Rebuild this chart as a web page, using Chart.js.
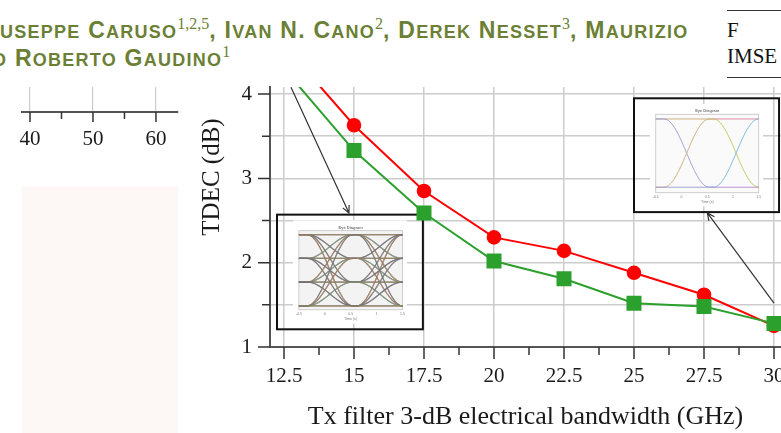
<!DOCTYPE html>
<html>
<head>
<meta charset="utf-8">
<script src="https://cdn.jsdelivr.net/npm/chart.js@4.4.1/dist/chart.umd.min.js"></script>
<style>
  html, body { margin: 0; padding: 0; background: #fff; width: 781px; height: 433px; overflow: hidden; }
  body { position: relative; }
  .hdr { position: absolute; left: 0; color: #6b7f35; font-family: "Liberation Sans", Arial, sans-serif;
         font-weight: bold; font-size: 23px; line-height: 22px; white-space: nowrap; letter-spacing: 1.25px; }
  .hdr i { font-style: normal; font-size: 18px; }
  .hdr sup { font-family: "Liberation Serif", serif; font-weight: normal; letter-spacing: 0;
             font-size: 16px; vertical-align: 0; position: relative; top: -9px; }
  .pink { position: absolute; left: 22px; top: 186px; width: 156px; height: 247px; background: #fdf7f6; }
  .legbox { position: absolute; left: 727px; top: 10px; width: 60px; height: 68px;
            border-top: 1.5px solid #333; border-bottom: 1.5px solid #333;
            font-family: "Liberation Serif", serif; font-size: 21px; color: #111; line-height: 26px; padding-top: 6px; box-sizing: border-box; }
  canvas { position: absolute; }
</style>
</head>
<body>
<div class="hdr" style="top:19px;left:0"><i>USEPPE</i> C<i>ARUSO</i><sup>1,2,5</sup>, I<i>VAN</i> N. C<i>ANO</i><sup>2</sup>, D<i>EREK</i> N<i>ESSET</i><sup>3</sup>, M<i>AURIZIO</i></div>
<div class="hdr" style="top:47px;left:-8px"><i>O</i> R<i>OBERTO</i> G<i>AUDINO</i><sup>1</sup></div>
<div class="pink"></div>
<div class="legbox">F<br>IMSE</div>
<canvas id="leftAxis" width="200" height="90" style="left:0;top:70px"></canvas>
<canvas id="tdec" width="781" height="433" style="left:0;top:0"></canvas>
<script>
// values
const bandwidthGHz = [12.5, 15, 17.5, 20, 22.5, 25, 27.5, 30];
const tdecRed      = [4.58, 3.63, 2.85, 2.30, 2.14, 1.88, 1.62, 1.25];
const tdecGreen    = [4.30, 3.33, 2.59, 2.02, 1.81, 1.52, 1.48, 1.28];
const xTickLabels  = [12.5, 15, 17.5, 20, 22.5, 25, 27.5, 30];
const yTickLabels  = [1, 2, 3, 4];
const leftAxisLabels = [40, 50, 60];

// minor ticks sit half way between labelled ones
const withHalves = (arr) => arr.flatMap((v, i) => i < arr.length - 1 ? [v, (v + arr[i + 1]) / 2] : [v]);
const xTicks = withHalves(xTickLabels);
const yTicks = withHalves(yTickLabels);
const leftTicks = withHalves(leftAxisLabels);

// the two eye-diagram pictures and their arrows, in data units
const insets = [
  { kind: 'pam', x0: 12.25, x1: 17.46, y0: 2.57, y1: 1.21 },
  { kind: 'nrz', x0: 25.0, x1: 30.18, y0: 3.95, y1: 2.60 }
];
const arrows = [
  { from: [12.75, 4.08], to: [14.82, 2.59] },
  { from: [30.0, 1.52], to: [27.62, 2.59] }
];

const serif = '"Liberation Serif", "Times New Roman", serif';

function drawInset(ctx, l, t, r, b, kind) {
  const w = r - l, h = b - t;
  ctx.save();
  ctx.fillStyle = '#fff';
  ctx.fillRect(l + 0.11 * w, t + 0.05 * h, 0.78 * w, 0.9 * h);
  const pl = l + 0.15 * w, pr = l + 0.86 * w, pt = t + 0.14 * h, pb = t + 0.83 * h;
  ctx.fillStyle = kind === 'pam' ? '#f3f3f3' : '#fafafa';
  ctx.fillRect(pl, pt, pr - pl, pb - pt);
  ctx.strokeStyle = '#bbb';
  ctx.lineWidth = 0.7;
  ctx.strokeRect(pl, pt, pr - pl, pb - pt);

  // tiny labels
  ctx.fillStyle = '#777';
  ctx.font = 'bold 4px "Liberation Sans"';
  ctx.textAlign = 'center';
  ctx.fillText('Eye Diagram', (pl + pr) / 2, pt - 2);
  ctx.font = '3.5px "Liberation Sans"';
  ['-0.5', '0', '0.5', '1', '1.5'].forEach((s, i) => ctx.fillText(s, pl + i * (pr - pl) / 4, pb + 5));
  ctx.fillText('Time (s)', (pl + pr) / 2, pb + 10);

  // traces
  const levels = kind === 'pam' ? [0.05, 0.35, 0.65, 0.95] : [0.06, 0.93];
  const colors = kind === 'pam'
    ? ['rgba(190,90,70,0.45)', 'rgba(70,110,150,0.45)', 'rgba(110,110,110,0.5)', 'rgba(170,150,70,0.45)', 'rgba(110,160,150,0.45)']
    : ['rgba(220,120,150,0.55)', 'rgba(190,200,90,0.6)', 'rgba(120,180,220,0.6)', 'rgba(170,120,200,0.5)'];
  const s = (u) => u < -1 ? 0 : u > 1 ? 1 : (1 + Math.sin(Math.PI * u / 2)) / 2;
  let k = 0;
  ctx.lineWidth = kind === 'pam' ? 1.1 : 0.9;
  levels.forEach(a => levels.forEach(m => levels.forEach(c => {
    ctx.strokeStyle = colors[k++ % colors.length];
    ctx.beginPath();
    for (let i = 0; i <= 40; i++) {
      const f = i / 40;
      const v = a + (m - a) * s((f - 0.3) / 0.22) + (c - m) * s((f - 0.78) / 0.22);
      const px = pl + f * (pr - pl), py = pt + v * (pb - pt);
      i ? ctx.lineTo(px, py) : ctx.moveTo(px, py);
    }
    ctx.stroke();
  })));

  ctx.strokeStyle = '#111';
  ctx.lineWidth = 2;
  ctx.strokeRect(l, t, w, h);
  ctx.restore();
}

function drawArrow(ctx, x1, y1, x2, y2) {
  const ang = Math.atan2(y2 - y1, x2 - x1);
  ctx.save();
  ctx.strokeStyle = '#333';
  ctx.lineWidth = 1.2;
  ctx.beginPath();
  ctx.moveTo(x1, y1);
  ctx.lineTo(x2, y2);
  ctx.moveTo(x2 - 8 * Math.cos(ang - 0.45), y2 - 8 * Math.sin(ang - 0.45));
  ctx.lineTo(x2, y2);
  ctx.lineTo(x2 - 8 * Math.cos(ang + 0.45), y2 - 8 * Math.sin(ang + 0.45));
  ctx.stroke();
  ctx.restore();
}

// tick marks drawn by hand so minor ones can be shorter
function drawTickMarks(ctx, scale, labelled, major, minor) {
  ctx.save();
  ctx.strokeStyle = '#333';
  ctx.lineWidth = 1.5;
  ctx.beginPath();
  scale.ticks.forEach(t => {
    const len = labelled.includes(t.value) ? major : minor;
    const p = scale.getPixelForValue(t.value);
    if (scale.isHorizontal()) {
      ctx.moveTo(p, scale.top);
      ctx.lineTo(p, scale.top + len);
    } else {
      ctx.moveTo(scale.right, p);
      ctx.lineTo(scale.right - len, p);
    }
  });
  ctx.stroke();
  ctx.restore();
}

const decor = {
  id: 'decor',
  beforeDatasetsDraw(chart) {
    const { ctx, scales: { x, y } } = chart;
    insets.forEach(b => drawInset(ctx, x.getPixelForValue(b.x0), y.getPixelForValue(b.y0),
      x.getPixelForValue(b.x1), y.getPixelForValue(b.y1), b.kind));
    arrows.forEach(a => drawArrow(ctx, x.getPixelForValue(a.from[0]), y.getPixelForValue(a.from[1]),
      x.getPixelForValue(a.to[0]), y.getPixelForValue(a.to[1])));
  },
  afterDraw(chart) {
    const { ctx, scales: { x, y } } = chart;
    drawTickMarks(ctx, x, xTickLabels, 12, 8);
    drawTickMarks(ctx, y, yTickLabels, 12, 8);
    ctx.save();
    ctx.translate(212, 177);
    ctx.rotate(-Math.PI / 2);
    ctx.font = '25px ' + serif;
    ctx.fillStyle = '#1a1a1a';
    ctx.textAlign = 'center';
    ctx.textBaseline = 'middle';
    ctx.fillText('TDEC (dB)', 0, 0);
    ctx.restore();
  }
};

new Chart(document.getElementById('tdec'), {
  type: 'line',
  data: {
    datasets: [
      {
        label: 'red',
        data: bandwidthGHz.map((v, i) => ({ x: v, y: tdecRed[i] })),
        borderColor: '#ff0000',
        backgroundColor: '#ff0000',
        borderWidth: 2,
        pointStyle: 'circle',
        pointRadius: 6.3,
        order: 1
      },
      {
        label: 'green',
        data: bandwidthGHz.map((v, i) => ({ x: v, y: tdecGreen[i] })),
        borderColor: '#2ca02c',
        backgroundColor: '#2ca02c',
        borderWidth: 2,
        pointStyle: 'rect',
        pointRadius: 9.2,
        order: 0
      }
    ]
  },
  options: {
    responsive: false,
    animation: false,
    events: [],
    layout: { autoPadding: false, padding: { top: 87, right: 0, bottom: 0, left: 0 } },
    plugins: { legend: { display: false }, tooltip: { enabled: false } },
    scales: {
      x: {
        type: 'linear',
        min: 12,
        max: 30.25,
        afterBuildTicks: (scale) => { scale.ticks = xTicks.map(v => ({ value: v })); },
        afterFit: (scale) => { scale.height = 86; scale.paddingLeft = 0; scale.paddingRight = 0; },
        ticks: {
          autoSkip: false,
          maxRotation: 0,
          padding: 17,
          color: '#1a1a1a',
          font: { family: serif, size: 21 },
          callback: (v) => xTickLabels.includes(v) ? String(v) : ''
        },
        grid: {
          drawTicks: false,
          lineWidth: 1.5,
          color: (c) => xTickLabels.includes(c.tick && c.tick.value) ? '#cccccc' : 'rgba(0,0,0,0)'
        },
        border: { color: '#555', width: 2 },
        title: {
          display: true,
          text: 'Tx filter 3-dB electrical bandwidth (GHz)',
          color: '#1a1a1a',
          font: { family: serif, size: 26 },
          padding: { top: 0, bottom: 0 }
        }
      },
      y: {
        type: 'linear',
        min: 1,
        max: 4.084,
        afterBuildTicks: (scale) => { scale.ticks = yTicks.map(v => ({ value: v })); },
        afterFit: (scale) => { scale.width = 270; scale.paddingTop = 0; scale.paddingBottom = 0; },
        ticks: {
          padding: 18,
          color: '#1a1a1a',
          font: { family: serif, size: 21 },
          callback: (v) => yTickLabels.includes(v) ? String(v) : ''
        },
        grid: {
          drawTicks: false,
          lineWidth: 1.5,
          color: (c) => (c.tick && c.tick.value === 1) ? 'rgba(0,0,0,0)' : '#cccccc'
        },
        border: { color: '#555', width: 2 }
      }
    }
  },
  plugins: [decor]
});

// the cut-off axis of the neighbouring plot on the left
new Chart(document.getElementById('leftAxis'), {
  type: 'line',
  data: { datasets: [] },
  options: {
    responsive: false,
    animation: false,
    events: [],
    layout: { autoPadding: false, padding: { top: 17, right: 22, bottom: 0, left: 22 } },
    plugins: { legend: { display: false }, tooltip: { enabled: false } },
    scales: {
      x: {
        type: 'linear',
        min: 38.73,
        max: 63.5,
        afterBuildTicks: (scale) => { scale.ticks = leftTicks.map(v => ({ value: v })); },
        afterFit: (scale) => { scale.height = 48; scale.paddingLeft = 0; scale.paddingRight = 0; },
        ticks: {
          autoSkip: false,
          maxRotation: 0,
          padding: 15,
          color: '#1a1a1a',
          font: { family: serif, size: 21 },
          callback: (v) => leftAxisLabels.includes(v) ? String(v) : ''
        },
        grid: {
          drawTicks: false,
          lineWidth: 1.2,
          color: (c) => leftAxisLabels.includes(c.tick && c.tick.value) ? '#cccccc' : 'rgba(0,0,0,0)'
        },
        border: { color: '#555', width: 2 }
      },
      y: { display: false, min: 0, max: 1 }
    }
  },
  plugins: [{
    id: 'leftTicks',
    afterDraw(chart) { drawTickMarks(chart.ctx, chart.scales.x, leftAxisLabels, 10, 7); }
  }]
});
</script>
</body>
</html>
